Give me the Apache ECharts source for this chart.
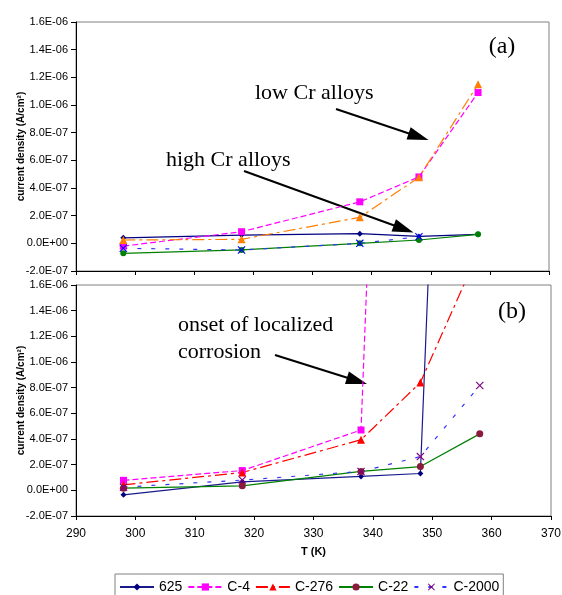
<!DOCTYPE html>
<html><head><meta charset="utf-8">
<script src="https://cdn.jsdelivr.net/npm/echarts@6/dist/echarts.min.js"></script>
<style>html,body{margin:0;padding:0;background:#fff}#c{width:562px;height:595px}</style>
</head><body><div id="c"></div>
<script>
const temps = [298, 318, 338, 348, 358];
const seriesNames = ['625', 'C-4', 'C-276', 'C-22', 'C-2000'];
// panel (a)
const a625   = [4e-8, 6e-8, 7e-8, 5e-8, 6.5e-8];
const aC4    = [-2e-8, 8.4e-8, 3.0e-7, 4.8e-7, 1.09e-6];
const aC276  = [2.4e-8, 2.9e-8, 1.88e-7, 4.77e-7, 1.15e-6];
const aC22   = [-7.2e-8, -4.8e-8, 0, 2.4e-8, 6.5e-8];
const aC2000 = [-3.6e-8, -4.8e-8, 0, 4.8e-8, null];
// panel (b)
const b625   = [-3.5e-8, 6.6e-8, 1.08e-7, 1.31e-7, 1.16e-5];
const bC4    = [7.8e-8, 1.54e-7, 4.7e-7, 1.23e-5, null];
const bC276  = [4.3e-8, 1.39e-7, 3.94e-7, 8.4e-7, 1.88e-6];
const bC22   = [1.7e-8, 3.5e-8, 1.47e-7, 1.85e-7, 4.4e-7];
const bC2000 = [2.5e-8, 8e-8, 1.47e-7, 2.63e-7, 8.17e-7];
const yTicks = {min: -2e-7, max: 1.6e-6, interval: 2e-7};
const xTicks = {min: 290, max: 370, interval: 10};

const pairs = v => temps.map((t, i) => [t, v[i] === null ? '-' : v[i]]);
const XSYM = 'path://M0,1L1,0L5,4L9,0L10,1L6,5L10,9L9,10L5,6L1,10L0,9L4,5Z';
const FONT = '"Liberation Sans", Arial, sans-serif';
const SERIF = '"Liberation Serif", "Times New Roman", serif';

function fmt(v) {
  if (Math.abs(v) < 1e-12) v = 0;
  const s = v.toExponential(1);
  const parts = s.split('e');
  const sign = parts[1][0];
  const d = parts[1].slice(1).padStart(2, '0');
  return parts[0] + 'E' + sign + d;
}

function mk(name, data, ax, color, lineType, symbol, symSize, symColor) {
  return {
    name: name, type: 'line', xAxisIndex: ax, yAxisIndex: ax,
    data: pairs(data), clip: true, connectNulls: false,
    symbol: symbol, symbolSize: symSize, showSymbol: true,
    lineStyle: {color: color, width: 1.2, type: lineType},
    itemStyle: {color: symColor || color},
    emphasis: {disabled: true}, animation: false
  };
}

const dashC4 = [6, 3];
const dashC276 = [12, 4, 3, 4];
const dashC2000 = [4, 10];

const series = [
  mk('625', b625, 1, '#1a1a8c', 'solid', 'diamond', 6, '#000080'),
  mk('C-4', bC4, 1, '#ff00ff', dashC4, 'rect', 7, '#ff00ff'),
  mk('C-276', bC276, 1, '#ff0000', dashC276, 'triangle', 8, '#ff0000'),
  mk('C-22', bC22, 1, '#008000', 'solid', 'circle', 7, '#8b1a3c'),
  mk('C-2000', bC2000, 1, '#3333ff', dashC2000, XSYM, 8, '#800080'),
  mk('625', a625, 0, '#000080', 'solid', 'diamond', 6, '#000080'),
  mk('C-4', aC4, 0, '#ff00ff', dashC4, 'rect', 7, '#ff00ff'),
  mk('C-276', aC276, 0, '#ff7f00', dashC276, 'triangle', 8, '#ff7f00'),
  mk('C-22', aC22, 0, '#008000', 'solid', 'circle', 6, '#008000'),
  mk('C-2000', aC2000, 0, '#3333ff', dashC2000, XSYM, 8, '#0000ff')
];

function xAx(idx, showLabel) {
  return {
    type: 'value', gridIndex: idx, min: xTicks.min, max: xTicks.max, interval: xTicks.interval,
    axisLine: {show: true, onZero: false, lineStyle: {color: '#000', width: 1}},
    axisTick: {show: true, length: 4, lineStyle: {color: '#000'}},
    axisLabel: {show: showLabel, fontFamily: FONT, fontSize: 12, color: '#000', margin: 12},
    splitLine: {show: false},
    name: showLabel ? 'T (K)' : '', nameLocation: 'middle', nameGap: 30, nameMoveOverlap: false,
    nameTextStyle: {fontFamily: FONT, fontSize: 11, fontWeight: 'bold', color: '#000'}
  };
}
function yAx(idx) {
  return {
    type: 'value', gridIndex: idx, min: yTicks.min, max: yTicks.max, interval: yTicks.interval,
    axisLine: {show: true, lineStyle: {color: '#000', width: 1}},
    axisTick: {show: true, length: 5, lineStyle: {color: '#000'}},
    axisLabel: {fontFamily: FONT, fontSize: 11, color: '#000', margin: 8, formatter: fmt},
    splitLine: {show: false},
    name: 'current density (A/cm²)', nameLocation: 'middle', nameGap: 50, nameMoveOverlap: false,
    nameTextStyle: {fontFamily: FONT, fontSize: 10, fontWeight: 'bold', color: '#000'}
  };
}

function arrow(x1, y1, x2, y2) {
  const dx = x2 - x1, dy = y2 - y1, L = Math.hypot(dx, dy);
  const ux = dx / L, uy = dy / L, hl = 21, hw = 6.5;
  const bx = x2 - ux * hl, by = y2 - uy * hl;
  return [
    {type: 'line', shape: {x1: x1, y1: y1, x2: bx + ux * 2, y2: by + uy * 2}, style: {stroke: '#000', lineWidth: 2}, silent: true},
    {type: 'polygon', shape: {points: [[x2, y2], [bx - uy * hw, by + ux * hw], [bx + uy * hw, by - ux * hw]]}, style: {fill: '#000'}, silent: true}
  ];
}
function txt(x, y, s, size, align) {
  return {type: 'text', x: x, y: y, style: {text: s, font: size + 'px ' + SERIF, fill: '#000', align: align || 'left', verticalAlign: 'middle'}, silent: true};
}

const graphics = [].concat(
  [txt(502, 47, '(a)', 24, 'center'),
   txt(255, 93, 'low Cr alloys', 22),
   txt(166, 160, 'high Cr alloys', 22),
   txt(178, 325, 'onset of localized', 22),
   txt(178, 352, 'corrosion', 22),
   txt(512, 312, '(b)', 24, 'center')],
  arrow(336, 109, 428.5, 140),
  arrow(244, 171, 413.5, 232.5),
  arrow(275, 355, 367, 384)
);

const chart = echarts.init(document.getElementById('c'), null, {renderer: 'canvas'});
chart.setOption({
  animation: false,
  backgroundColor: '#fff',
  grid: [
    {left: 76, right: 13, top: 22, height: 249, show: true, borderColor: '#808080', borderWidth: 1, backgroundColor: 'transparent', containLabel: false, outerBoundsMode: 'none'},
    {left: 76, right: 11, top: 285, height: 231, show: true, borderColor: '#808080', borderWidth: 1, backgroundColor: 'transparent', containLabel: false, outerBoundsMode: 'none'}
  ],
  xAxis: [xAx(0, false), xAx(1, true)],
  yAxis: [yAx(0), yAx(1)],
  legend: {
    data: seriesNames, left: 115, top: 574, orient: 'horizontal',
    itemWidth: 34, itemHeight: 9, itemGap: 5, padding: [6, 4, 6, 4],
    borderColor: '#808080', borderWidth: 1, backgroundColor: '#fff',
    textStyle: {fontFamily: FONT, fontSize: 14, color: '#000'},
    selectedMode: false
  },
  series: series,
  graphic: graphics
});
</script></body></html>
